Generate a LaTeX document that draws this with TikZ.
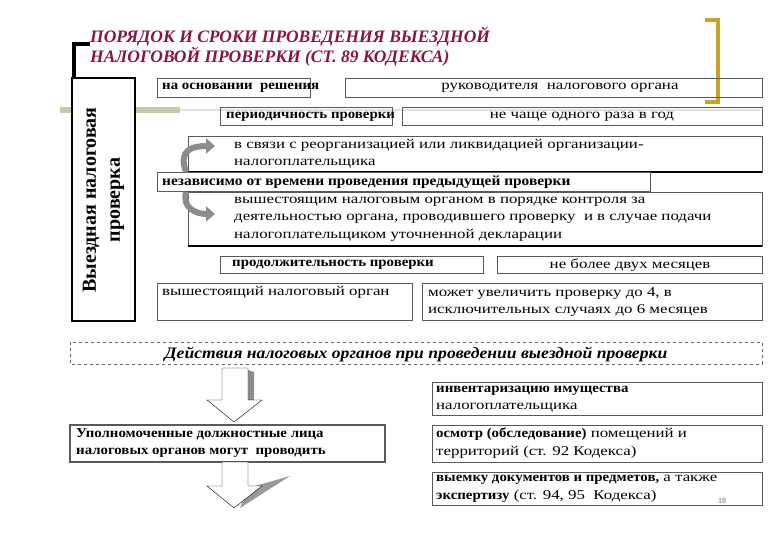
\documentclass[tikz,border=0pt]{standalone}
\usepackage{fontspec}
\setmainfont{Liberation Serif}
\newfontfamily\wide[FakeStretch=1.25]{Liberation Serif}
\newfontfamily\wideb[FakeStretch=1.1]{Liberation Serif}
\usetikzlibrary{arrows.meta}
\definecolor{ttl}{HTML}{8A1445}
\definecolor{gold}{HTML}{C9A227}
\definecolor{olive}{HTML}{C8C9A6}
\begin{document}
\begin{tikzpicture}[x=1pt,y=-1pt,
  bx/.style={draw=black!65,line width=0.7pt,inner sep=0pt},
  tx/.style={font=\wide\fontsize{13.5}{17.5}\selectfont,anchor=west,align=left,inner sep=0pt},
  bt/.style={tx,font=\wideb\fontsize{13.5}{17.5}\selectfont\bfseries},
  ct/.style={font=\wide\fontsize{13.5}{17.5}\selectfont,anchor=center,inner sep=0pt}]
\useasboundingbox[fill=white] (0,0) rectangle (780,540);
% decorations
\fill[olive] (60,107) rectangle (180,113);
\fill[black!12] (180,109) rectangle (760,111);
\fill[black] (72,42) rectangle (76,130);
\fill[black] (72,42) rectangle (90,46);
\fill[gold] (716,18) rectangle (720,104);
\fill[gold] (705,18) rectangle (720,22);
\fill[gold] (705,100) rectangle (720,104);
\node[anchor=north west,text=ttl,font=\fontsize{17.5}{20}\selectfont\bfseries\itshape,align=left,inner sep=0pt] (title) at (90,27)
 {ПОРЯДОК И СРОКИ ПРОВЕДЕНИЯ ВЫЕЗДНОЙ\\НАЛОГОВОЙ ПРОВЕРКИ (СТ. 89 КОДЕКСА)};
% vertical box
\draw[line width=2pt,fill=white] (72,78) rectangle (135,321);
\node[rotate=90,font=\fontsize{20}{24}\selectfont\bfseries,align=center] (vb) at (103.5,200) {Выездная налоговая\\проверка};
% boxes
\draw[bx] (157,78) rectangle (310,97); \node[bt] (a1) at (162,88) {на основании\ \ решения};
\draw[bx] (345,78) rectangle (762,97); \node[ct] (a2) at (560,88) {руководителя\ \ налогового органа};
\draw[bx] (220,107) rectangle (392,125); \node[bt] (b1) at (226,117) {периодичность проверки};
\draw[bx] (402,107) rectangle (762,125); \node[ct] (b2) at (582,117) {не чаще одного раза в год};
\draw[bx] (188,136) rectangle (762,172); \draw[line width=1.2pt] (188,172)--(762,172);
\node[tx] (c1) at (234,154) {в связи с реорганизацией или ликвидацией организации-\\налогоплательщика};
\draw[bx,fill=white] (157,172) rectangle (650,191); \node[bt,font=\wideb\fontsize{14}{17}\selectfont\bfseries] (c2) at (162,182) {независимо от времени проведения предыдущей проверки};
\draw[bx] (188,192) rectangle (762,246); \draw[line width=1.2pt] (188,246)--(762,246);
\node[tx] (c3) at (234,219) {вышестоящим налоговым органом в порядке контроля за\\деятельностью органа, проводившего проверку\ \ и в случае подачи\\налогоплательщиком уточненной декларации};
\draw[bx] (220,256) rectangle (483,273); \node[bt] (d1) at (232,265) {продолжительность проверки};
\draw[bx] (497,256) rectangle (762,273); \node[ct] (d2) at (630,265) {не более двух месяцев};
\draw[bx] (157,283) rectangle (412,320); \node[tx,anchor=north west] (e1) at (162,286) {вышестоящий налоговый орган};
\draw[bx] (422,283) rectangle (762,320); \node[tx] (e2) at (428,302) {может увеличить проверку до 4, в\\исключительных случаях до 6 месяцев};
% curved arrows
\draw[line width=6pt,black!45,-{Triangle[length=9pt,width=15pt]}] (186,172) .. controls (178,150) and (192,146) .. (215,146);
\draw[line width=6pt,black!45,-{Triangle[length=9pt,width=15pt]}] (186,192) .. controls (182,208) and (196,214) .. (215,214);
% dashed box
\draw[dashed,black!60,line width=0.8pt] (70,342) rectangle (762,364);
\node[font=\wideb\fontsize{16}{19}\selectfont\bfseries\itshape] (act) at (416,354) {Действия налоговых органов при проведении выездной проверки};
% block arrows
\fill[black!45] (248,370) -- (254,372) -- (254,402) -- (248,402) -- cycle;
\draw[fill=white] (222,368) -- (248,368) -- (248,400) -- (262,400) -- (234,422) -- (207,400) -- (222,400) -- cycle;
\draw[bx,line width=1.2pt,fill=white] (70,425) rectangle (385,462);
\node[bt] (u) at (76,443) {Уполномоченные должностные лица\\налоговых органов могут\ \ проводить};
\fill[black!40] (248,488) -- (290,476) -- (240,508) -- cycle;
\draw[fill=white] (222,462) -- (248,462) -- (248,486) -- (262,486) -- (234,508) -- (207,486) -- (222,486) -- cycle;
% right boxes
\draw[bx,line width=1pt] (432,383) rectangle (762,415); \node[tx] (r1) at (436,399) {{\wideb\bfseries инвентаризацию имущества}\\налогоплательщика};
\draw[bx,line width=1pt] (432,425) rectangle (762,462); \node[tx] (r2) at (436,443) {{\wideb\bfseries осмотр (обследование)} помещений и\\территорий (ст. 92 Кодекса)};
\draw[bx,line width=1pt] (432,472) rectangle (762,505); \node[tx] (r3) at (436,489) {{\wideb\bfseries выемку документов и предметов,} а также\\{\wideb\bfseries экспертизу} (ст. 94, 95\ \ Кодекса)};
\node[font=\fontsize{8}{9}\selectfont,text=black!60] (pg) at (722,501) {18};
\end{tikzpicture}
\end{document}
